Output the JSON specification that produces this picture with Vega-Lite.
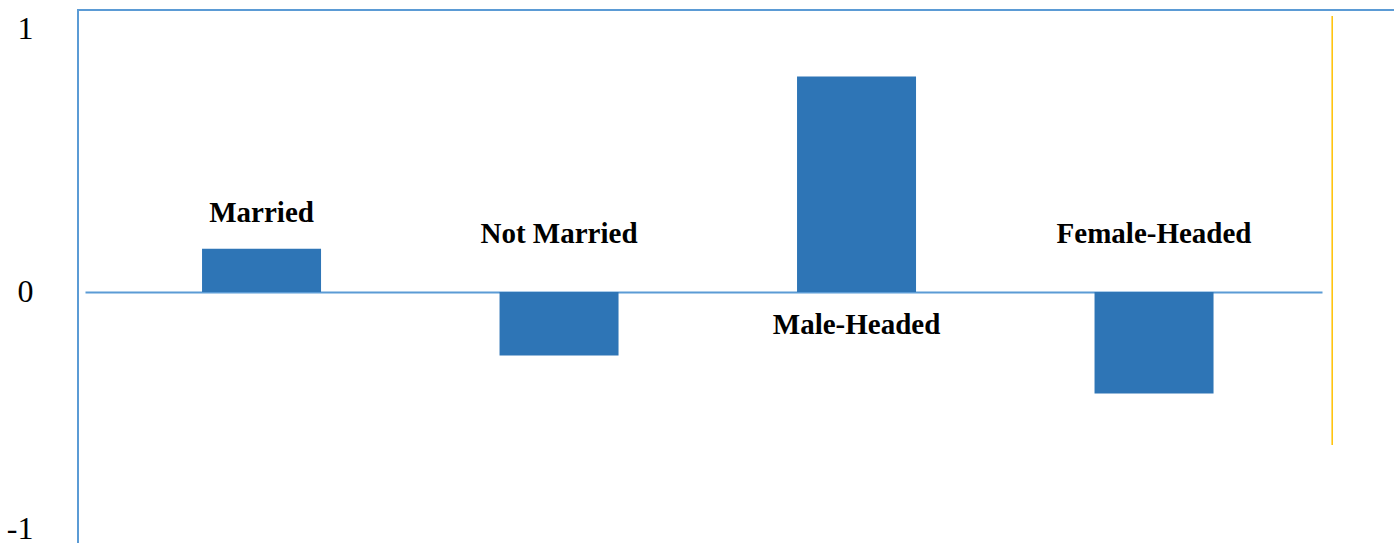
{
  "$schema": "https://vega.github.io/schema/vega-lite/v6.json",
  "width": 1330,
  "height": 540,
  "autosize": {"type": "none"},
  "padding": {"left": 78, "top": 10, "right": 0, "bottom": 0},
  "background": "white",
  "config": {
    "view": {"stroke": "#5B9BD5", "strokeWidth": 2},
    "axisY": {
      "domain": false,
      "ticks": false,
      "grid": false,
      "labelFont": "Liberation Serif",
      "labelFontSize": 32,
      "labelColor": "black",
      "labelPadding": 45,
      "labelBaseline": "alphabetic"
    }
  },
  "datasets": {
    "groups": [
      {"group": "Married", "value": 0.173, "label_y": 0.28},
      {"group": "Not Married", "value": -0.254, "label_y": 0.196},
      {"group": "Male-Headed", "value": 0.862, "label_y": -0.168},
      {"group": "Female-Headed", "value": -0.406, "label_y": 0.196}
    ],
    "divider": [{"pos": 0.943, "top": 1.104, "bottom": -0.612}]
  },
  "layer": [
    {
      "data": {"name": "groups"},
      "encoding": {
        "x": {
          "field": "group",
          "type": "nominal",
          "sort": null,
          "scale": {"range": [7, 1244], "paddingInner": 0.6, "paddingOuter": 0.379, "align": 0.519},
          "axis": {
            "orient": "bottom",
            "offset": {"expr": "scale('y', 0) - height"},
            "domain": true,
            "domainColor": "#5B9BD5",
            "domainWidth": 2,
            "labels": false,
            "ticks": false,
            "title": null,
            "grid": false
          }
        }
      },
      "layer": [
        {
          "mark": {"type": "bar", "color": "#2E75B6"},
          "encoding": {
            "y": {
              "field": "value",
              "type": "quantitative",
              "scale": {"domain": [-1.032, 1.128], "nice": false, "zero": false},
              "axis": {
                "values": [-1, 0, 1],
                "title": null,
                "labelExpr": "toString(datum.value)",
                "labelOffset": {"condition": {"test": "datum.value == 0", "value": 9}, "value": -4}
              }
            }
          }
        },
        {
          "mark": {"type": "text", "font": "Liberation Serif", "fontSize": 29, "fontWeight": "bold", "baseline": "alphabetic", "align": "center", "color": "black"},
          "encoding": {
            "y": {
              "field": "label_y",
              "type": "quantitative",
              "scale": {"domain": [-1.032, 1.128], "nice": false, "zero": false},
              "axis": {
                "values": [-1, 0, 1],
                "title": null,
                "labelExpr": "toString(datum.value)",
                "labelOffset": {"condition": {"test": "datum.value == 0", "value": 9}, "value": -4}
              }
            },
            "text": {"field": "group"}
          }
        }
      ]
    },
    {
      "data": {"name": "divider"},
      "mark": {"type": "rule", "color": "#FFC000", "strokeWidth": 1.5},
      "encoding": {
        "x": {"field": "pos", "type": "quantitative", "scale": {"domain": [0, 1]}, "axis": null},
        "y": {
          "field": "top",
          "type": "quantitative",
          "scale": {"domain": [-1.032, 1.128], "nice": false, "zero": false},
          "axis": {
            "values": [-1, 0, 1],
            "title": null,
            "labelExpr": "toString(datum.value)",
            "labelOffset": {"condition": {"test": "datum.value == 0", "value": 9}, "value": -4}
          }
        },
        "y2": {"field": "bottom"}
      }
    }
  ],
  "resolve": {"scale": {"x": "independent"}}
}
